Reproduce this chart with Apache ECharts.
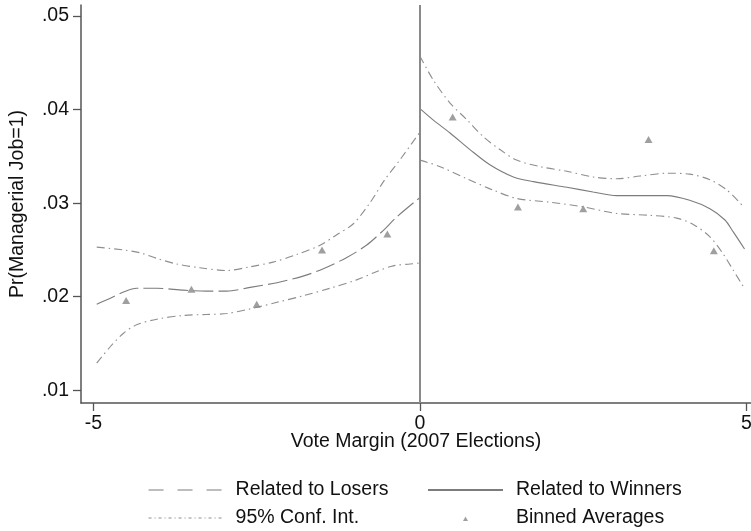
<!DOCTYPE html>
<html>
<head>
<meta charset="utf-8">
<title>Pr(Managerial Job=1) by Vote Margin</title>
<script src="https://cdn.jsdelivr.net/npm/echarts@6/dist/echarts.min.js"></script>
<style>
  html, body { margin: 0; padding: 0; background: #fff; }
  #chart { width: 751px; height: 531px; }
</style>
</head>
<body>
<div id="chart"></div>
<script>
// Fitted curves (vote margin, probability) on each side of the cutoff
const losersX = [-4.95, -4.75, -4.54, -4.34, -4.03, -3.62, -3.27, -2.96, -2.6, -2.19, -1.79, -1.48, -1.12, -0.82, -0.56, -0.36, 0];
const losersY = [0.0192, 0.0198, 0.0205, 0.0209, 0.0209, 0.0207, 0.0206, 0.0206, 0.0210, 0.0215, 0.0222, 0.0230, 0.0242, 0.0255, 0.0271, 0.0285, 0.0306];

const losersUpperX = [-4.95, -4.54, -4.29, -4.03, -3.73, -3.37, -2.96, -2.6, -2.25, -1.89, -1.53, -1.28, -1.02, -0.77, -0.54, -0.31, 0];
const losersUpperY = [0.0253, 0.0250, 0.0247, 0.0241, 0.0235, 0.0231, 0.0228, 0.0232, 0.0237, 0.0245, 0.0255, 0.0266, 0.0278, 0.0300, 0.0325, 0.0346, 0.0376];

const losersLowerX = [-4.95, -4.75, -4.54, -4.34, -4.03, -3.62, -3.27, -2.96, -2.6, -2.19, -1.79, -1.38, -0.97, -0.66, -0.41, -0.15, 0];
const losersLowerY = [0.0129, 0.0146, 0.0161, 0.0170, 0.0176, 0.0180, 0.0181, 0.0182, 0.0187, 0.0194, 0.0201, 0.0209, 0.0218, 0.0227, 0.0233, 0.0235, 0.0236];

const winnersX = [0, 0.2, 0.46, 0.77, 1.07, 1.43, 1.74, 2.25, 2.65, 3.01, 3.37, 3.78, 4.13, 4.44, 4.67, 4.8, 4.97];
const winnersY = [0.0401, 0.0389, 0.0375, 0.0357, 0.0341, 0.0328, 0.0323, 0.0317, 0.0312, 0.0308, 0.0308, 0.0308, 0.0303, 0.0294, 0.0282, 0.0269, 0.0251];

const winnersUpperX = [0, 0.2, 0.46, 0.72, 0.97, 1.23, 1.48, 1.84, 2.25, 2.65, 3.01, 3.37, 3.78, 4.13, 4.44, 4.7, 4.93];
const winnersUpperY = [0.0457, 0.0432, 0.0407, 0.0389, 0.0371, 0.0357, 0.0346, 0.0339, 0.0334, 0.0328, 0.0326, 0.0329, 0.0332, 0.0331, 0.0325, 0.0314, 0.0298];

const winnersLowerX = [0, 0.31, 0.72, 1.12, 1.48, 1.99, 2.5, 3.01, 3.52, 3.93, 4.19, 4.44, 4.64, 4.8, 4.95];
const winnersLowerY = [0.0346, 0.0339, 0.0326, 0.0314, 0.0305, 0.0301, 0.0296, 0.0289, 0.0287, 0.0284, 0.0277, 0.0264, 0.0246, 0.0228, 0.0211];

// Binned averages
const binsX = [-4.5, -3.5, -2.5, -1.5, -0.5, 0.5, 1.5, 2.5, 3.5, 4.5];
const binsY = [0.0196, 0.0208, 0.0192, 0.0250, 0.0267, 0.0392, 0.0296, 0.0294, 0.0368, 0.0249];

// Axis ticks
const xTicks = [-5, 0, 5];
const yTicks = [0.01, 0.02, 0.03, 0.04, 0.05];
const yTickLabels = ['.01', '.02', '.03', '.04', '.05'];

const cutoff = 0;

const zip = (xs, ys) => xs.map((x, i) => [x, ys[i]]);

const FONT = '"Liberation Sans", Arial, Helvetica, sans-serif';
const FS = 19.5;
const GRAY = '#7c7c7c';
const CI_GRAY = '#8e8e8e';
const DASH_LONG = [20, 5];
const DASH_DOT = [8, 4, 1.5, 4];

function curve(name, xs, ys, color, dash) {
  return {
    name: name,
    type: 'line',
    data: zip(xs, ys),
    smooth: 0.3,
    symbol: 'none',
    silent: true,
    lineStyle: { color: color, width: 1.1, type: dash },
    itemStyle: { color: color },
    z: 3
  };
}

const chart = echarts.init(document.getElementById('chart'), null, { renderer: 'canvas' });

const legendText = {
  fontFamily: FONT, fontSize: FS, color: '#111', lineHeight: 20, padding: [0, 0, 0, 8]
};
// line-only legend keys: no marker in the middle of the line
const noMarker = { color: 'rgba(0,0,0,0)', borderColor: 'rgba(0,0,0,0)', borderWidth: 0 };

chart.setOption({
  animation: false,
  backgroundColor: '#fff',
  textStyle: { fontFamily: FONT },
  grid: {
    left: 81, right: 0, top: 5, bottom: 128,
    containLabel: false, outerBoundsMode: 'none'
  },
  xAxis: {
    type: 'value',
    min: -5.191, max: 5.069,
    name: 'Vote Margin (2007 Elections)',
    nameLocation: 'middle',
    nameGap: 29,
    nameMoveOverlap: false,
    nameTextStyle: { fontFamily: FONT, fontSize: FS, color: '#111' },
    axisLine: { show: true, onZero: false, lineStyle: { color: '#555', width: 1.5 } },
    axisTick: { show: true, length: 8, customValues: xTicks, lineStyle: { color: '#555', width: 1.3 } },
    axisLabel: {
      customValues: xTicks, margin: 11,
      fontFamily: FONT, fontSize: FS, color: '#111',
      formatter: v => String(v)
    },
    splitLine: { show: false }
  },
  yAxis: {
    type: 'value',
    min: 0.008642, max: 0.051176,
    name: 'Pr(Managerial Job=1)',
    nameLocation: 'middle',
    nameGap: 53,
    nameRotate: 90,
    nameMoveOverlap: false,
    nameTextStyle: { fontFamily: FONT, fontSize: FS, color: '#111' },
    axisLine: { show: true, onZero: false, lineStyle: { color: '#555', width: 1.5 } },
    axisTick: { show: true, length: 8, customValues: yTicks, lineStyle: { color: '#555', width: 1.3 } },
    axisLabel: {
      customValues: yTicks, margin: 12,
      fontFamily: FONT, fontSize: FS, color: '#111',
      formatter: v => {
        const i = yTicks.findIndex(t => Math.abs(t - v) < 1e-9);
        return i >= 0 ? yTickLabels[i] : '';
      }
    },
    splitLine: { show: false }
  },
  legend: [
    {
      orient: 'vertical', left: 148, top: 480, padding: 0,
      itemWidth: 74, itemHeight: 20, itemGap: 8,
      selectedMode: false,
      textStyle: legendText,
      data: [
        { name: 'Related to Losers', itemStyle: noMarker, lineStyle: { type: [15, 14], width: 1.1 } },
        { name: '95% Conf. Int.', itemStyle: noMarker, lineStyle: { type: [3, 3, 1, 3], width: 1.1 } }
      ]
    },
    {
      orient: 'vertical', left: 427, top: 480, padding: 0,
      itemWidth: 75, itemHeight: 20, itemGap: 8,
      selectedMode: false,
      textStyle: legendText,
      data: [
        { name: 'Related to Winners', itemStyle: noMarker },
        { name: 'Binned Averages', icon: 'path://M0,0M75,20M35,13L37.5,8.5L40,13Z' }
      ]
    }
  ],
  series: [
    Object.assign(curve('Related to Losers', losersX, losersY, GRAY, DASH_LONG), {
      markLine: {
        silent: true,
        symbol: ['none', 'none'],
        label: { show: false },
        lineStyle: { color: '#8a8a8a', width: 2, type: 'solid' },
        data: [{ xAxis: cutoff }]
      }
    }),
    curve('Related to Winners', winnersX, winnersY, GRAY, 'solid'),
    curve('95% Conf. Int.', losersUpperX, losersUpperY, CI_GRAY, DASH_DOT),
    curve('95% Conf. Int.', losersLowerX, losersLowerY, CI_GRAY, DASH_DOT),
    curve('95% Conf. Int.', winnersUpperX, winnersUpperY, CI_GRAY, DASH_DOT),
    curve('95% Conf. Int.', winnersLowerX, winnersLowerY, CI_GRAY, DASH_DOT),
    {
      name: 'Binned Averages',
      type: 'scatter',
      data: zip(binsX, binsY),
      symbol: 'triangle',
      symbolSize: [8, 7],
      silent: true,
      itemStyle: { color: '#878787' },
      z: 4
    }
  ]
});
</script>
</body>
</html>
